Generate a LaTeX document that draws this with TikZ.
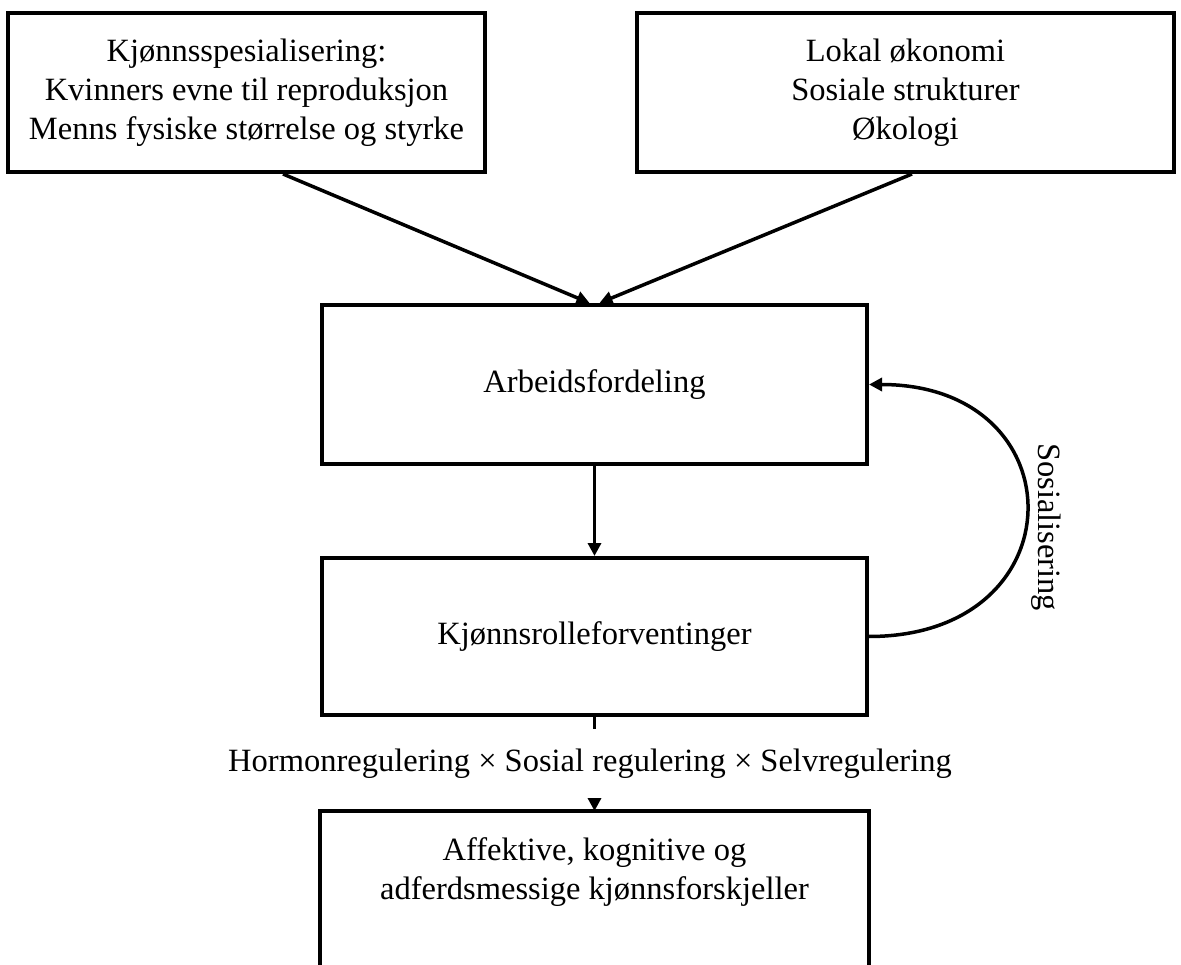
\documentclass[tikz,border=0pt]{standalone}
\usepackage{fontspec}
\setmainfont{Liberation Serif}
\usetikzlibrary{arrows.meta,calc}

\begin{document}
\begin{tikzpicture}[x=1pt,y=-1pt,
  box/.style={draw,line width=4pt,align=center,inner sep=0pt,minimum width=545pt,minimum height=159pt,font=\fontsize{32.5}{39}\selectfont},
  txt/.style={inner sep=0pt,font=\fontsize{32.5}{39}\selectfont},
  arr/.style={line width=3.5pt,-{Triangle[length=13pt,width=13pt]}}]
 \useasboundingbox (0,0) rectangle (1181,965);
 \node[box,minimum width=477pt] (spes) at (246.5,92.5) {Kjønnsspesialisering:\\Kvinners evne til reproduksjon\\Menns fysiske størrelse og styrke};
 \node[box,minimum width=537pt] (lokal) at (905.5,92.5) {Lokal økonomi\\Sosiale strukturer\\Økologi};
 \node[box] (arb) at (594.5,384.5) {Arbeidsfordeling};
 \node[box,minimum height=157pt] (roller) at (594.5,636.5) {Kjønnsrolleforventinger};
 \node[txt,minimum height=69pt] (reg) at (590,763.5) {Hormonregulering × Sosial regulering × Selvregulering};
 \node[box,draw=none,minimum height=118pt] (forskj) at (594.5,872) {Affektive, kognitive og\\adferdsmessige kjønnsforskjeller};
 \node[txt,rotate=-90] (sos) at (1046,527) {Sosialisering};
 \coordinate (bunn) at (594.5,965);
 \draw[line width=4pt] (forskj.north west |- bunn) -- (forskj.north west) -- (forskj.north east) -- (forskj.north east |- bunn);
 \draw[arr] ([xshift=36.5pt]spes.south) -- ([xshift=-5pt]arb.north);
 \draw[arr] ([xshift=6.5pt]lokal.south) -- ([xshift=5pt]arb.north);
 \draw[arr] (arb.south) -- (roller.north);
 \draw[line width=3.5pt] (roller.south) -- (roller.south |- reg.north);
 \draw[arr] (roller.south |- reg.south) -- (forskj.north);
 \draw[arr] (roller.east) .. controls +(210,0) and +(210,0) .. (arb.east);
\end{tikzpicture}
\end{document}
